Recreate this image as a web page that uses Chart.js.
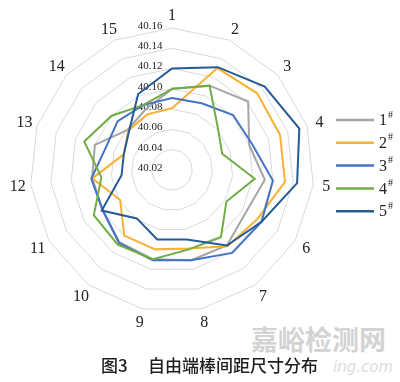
<!DOCTYPE html>
<html><head><meta charset="utf-8">
<script src="https://cdn.jsdelivr.net/npm/chart.js@4"></script>
<style>
html,body{margin:0;padding:0;background:#fff;width:400px;height:382px;overflow:hidden}
#wrap{position:relative;width:400px;height:382px}
canvas{position:absolute;left:0;top:0}
.cap{position:absolute;font-family:"Noto Sans CJK SC";font-size:17px;color:#1e1e1e;line-height:18px;white-space:nowrap;font-weight:500}
.wm{position:absolute;font-family:"Noto Sans CJK SC";color:#d3d3d3;white-space:nowrap;line-height:1}
</style></head><body>
<div id="wrap">
<div class="wm" style="left:251px;top:325px;font-size:27px;font-weight:bold">嘉峪检测网</div>
<div class="wm" style="left:333px;top:360px;font-size:15px;font-style:italic;font-family:'DejaVu Sans';color:#dcdcdc">ing.com</div>
<canvas id="c" width="400" height="382"></canvas>
<div class="cap" style="left:101px;top:356px">图3</div>
<div class="cap" style="left:148px;top:356px">自由端棒间距尺寸分布</div>
</div>
<script>
const categories = ['1','2','3','4','5','6','7','8','9','10','11','12','13','14','15'];
const seriesLabels = ['1#','2#','3#','4#','5#'];
const s1 = [40.100,40.111,40.121,40.100,40.112,40.104,40.112,40.111,40.110,40.108,40.099,40.099,40.100,40.079,40.085];
const s2 = [40.081,40.130,40.133,40.132,40.132,40.117,40.113,40.099,40.100,40.100,40.079,40.099,40.070,40.078,40.080];
const s3 = [40.091,40.092,40.101,40.103,40.120,40.122,40.121,40.111,40.111,40.109,40.099,40.100,40.089,40.092,40.090];
const s4 = [40.100,40.111,40.081,40.072,40.102,40.082,40.102,40.100,40.110,40.111,40.109,40.090,40.111,40.100,40.090];
const s5 = [40.120,40.131,40.143,40.152,40.144,40.122,40.112,40.090,40.090,40.079,40.100,40.070,40.070,40.077,40.102];
const tickValues = [40.02,40.04,40.06,40.08,40.10,40.12,40.14,40.16];
const tickLabels = ['40.02','40.04','40.06','40.08','40.10','40.12','40.14','40.16'];
const colors = ['#a5a5a5','#f8b133','#4472c4','#70ad47','#265a94'];
const seriesData = [s1,s2,s3,s4,s5];
const SERIF = '"Liberation Serif", "Times New Roman", Times, serif';

const overlay = {
  id:'overlay',
  beforeDatasetsDraw(chart){
    const s = chart.scales.r, ctx = chart.ctx;
    ctx.save();
    ctx.font = '11px ' + SERIF;
    ctx.fillStyle = '#222';
    ctx.textAlign = 'center';
    ctx.textBaseline = 'middle';
    tickValues.forEach((v,i)=>{
      const d = s.getDistanceFromCenterForValue(v);
      ctx.fillText(tickLabels[i], s.xCenter - 22, s.yCenter - d - 2);
    });
    ctx.restore();
  },
  afterDraw(chart){
    const s = chart.scales.r, ctx = chart.ctx;
    ctx.save();
    ctx.font = '16px ' + SERIF;
    ctx.fillStyle = '#222';
    ctx.textAlign = 'center';
    ctx.textBaseline = 'middle';
    categories.forEach((c,i)=>{
      const p = s.getPointPosition(i, s.drawingArea + 13);
      ctx.fillText(c, p.x, p.y + 1);
    });
    chart.data.datasets.forEach((ds,i)=>{
      const y = 120 + i*22.8;
      ctx.strokeStyle = ds.borderColor;
      ctx.lineWidth = 2.5;
      ctx.beginPath(); ctx.moveTo(336,y); ctx.lineTo(374,y); ctx.stroke();
      const lab = ds.label;
      ctx.textAlign = 'left';
      ctx.textBaseline = 'middle';
      ctx.fillStyle = '#222';
      ctx.font = '16px ' + SERIF;
      const main = lab.slice(0,-1);
      ctx.fillText(main, 379, y + 1);
      const w = ctx.measureText(main).width;
      ctx.font = '10px ' + SERIF;
      ctx.fillText(lab.slice(-1), 379 + w + 1, y - 5);
    });
    ctx.restore();
  }
};

function build(){
new Chart(document.getElementById('c'), {
  type: 'radar',
  data: {
    labels: categories,
    datasets: seriesData.map((d,i)=>({
      label: seriesLabels[i],
      data: d,
      borderColor: colors[i],
      backgroundColor: colors[i],
      borderWidth: 2,
      fill: false,
      tension: 0,
      pointRadius: 0,
      pointHoverRadius: 0,
      order: 5 - i
    }))
  },
  options: {
    responsive: false,
    animation: false,
    devicePixelRatio: 1,
    layout: { padding: { left: 30, right: 86, top: 28, bottom: 70 } },
    plugins: { legend: { display: false }, tooltip: { enabled: false }, title: { display: false } },
    scales: {
      r: {
        min: 40.02,
        max: 40.16,
        ticks: { display: false, stepSize: 0.02 },
        grid: { color: '#d9d9d9', lineWidth: 1 },
        angleLines: { display: false },
        pointLabels: { display: false }
      }
    }
  },
  plugins: [overlay]
});
}
if (document.fonts && document.fonts.load) {
  Promise.all([document.fonts.load('16px "Liberation Serif"'), document.fonts.load('17px "Noto Sans CJK SC"')]).then(build, build);
} else { build(); }
</script>
</body></html>
